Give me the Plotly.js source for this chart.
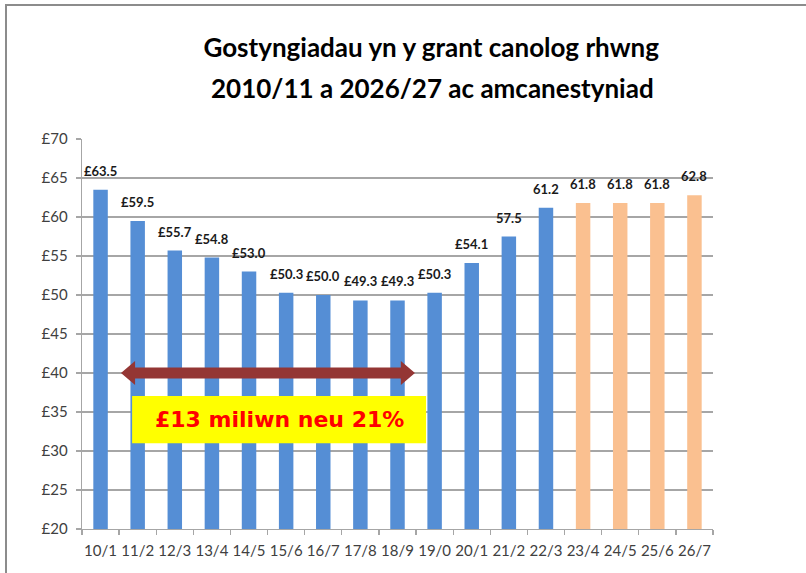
<!DOCTYPE html>
<html>
<head>
<meta charset="utf-8">
<script src="https://cdn.plot.ly/plotly-3.0.1.min.js"></script>
<style>
  html, body { margin: 0; padding: 0; background: #ffffff; }
  #wrap { position: relative; width: 806px; height: 573px; overflow: hidden; }
  #frame { position: absolute; left: 5px; top: 4px; width: 820px; height: 600px;
           border-top: 2px solid #8c8c8c; border-left: 2px solid #8c8c8c; pointer-events: none; }
  #chart { position: absolute; left: 0; top: 0; width: 806px; height: 573px; }
</style>
</head>
<body>
<div id="wrap">
  <div id="chart"></div>
  <div id="frame"></div>
</div>
<script>
// ---- data ----
const categories = ['10/1','11/2','12/3','13/4','14/5','15/6','16/7','17/8','18/9','19/0','20/1','21/2','22/3','23/4','24/5','25/6','26/7'];
const actualValues = [63.5, 59.5, 55.7, 54.8, 53.0, 50.3, 50.0, 49.3, 49.3, 50.3, 54.1, 57.5, 61.2];
const projectedValues = [61.8, 61.8, 61.8, 62.8];
const valueLabels = ['£63.5','£59.5','£55.7','£54.8','£53.0','£50.3','£50.0','£49.3','£49.3','£50.3','£54.1','57.5','61.2','61.8','61.8','61.8','62.8'];
const yTickValues = [20, 25, 30, 35, 40, 45, 50, 55, 60, 65, 70];
const yTickLabels = ['£20','£25','£30','£35','£40','£45','£50','£55','£60','£65','£70'];
const titleLines = ['Gostyngiadau yn y grant canolog rhwng', '2010/11 a 2026/27 ac amcanestyniad'];
const boxText = '£13 miliwn neu 21%';

// ---- build ----
const allValues = actualValues.concat(projectedValues);
const idx = categories.map((c, i) => i);
const actualX = idx.slice(0, actualValues.length);
const projX = idx.slice(actualValues.length);
const boundaries = categories.concat(['']).map((c, i) => i - 0.5);

const FONT = 'Lato, "Open Sans", sans-serif';
const GRID = '#a6a6a6';

const traces = [
  { type: 'bar', x: actualX, y: actualValues, width: 0.39,
    marker: { color: '#558ed5' }, hoverinfo: 'skip', showlegend: false },
  { type: 'bar', x: projX, y: projectedValues, width: 0.39,
    marker: { color: '#fac090' }, hoverinfo: 'skip', showlegend: false }
];

const labelAnns = idx.map(i => ({
  x: i, y: allValues[i], xref: 'x', yref: 'y', text: valueLabels[i],
  showarrow: false, yanchor: 'bottom', yshift: 9,
  font: { family: FONT, size: 13, color: '#1a1a1a', weight: 'bold' }
}));

// arrow geometry (data coordinates)
const aL = 0.55, aR = 8.47, head = 0.38, yc = 40, bh = 0.7, hh = 1.55;
const arrowPath = `M ${aL} ${yc} L ${aL+head} ${yc+hh} L ${aL+head} ${yc+bh} L ${aR-head} ${yc+bh} L ${aR-head} ${yc+hh} L ${aR} ${yc} L ${aR-head} ${yc-hh} L ${aR-head} ${yc-bh} L ${aL+head} ${yc-bh} L ${aL+head} ${yc-hh} Z`;

const layout = {
  width: 806, height: 573,
  margin: { l: 82, r: 93, t: 139, b: 44 },
  paper_bgcolor: 'rgba(0,0,0,0)', plot_bgcolor: '#ffffff',
  barmode: 'overlay',
  title: { text: titleLines[0], x: 0.535, xref: 'container', xanchor: 'center',
           y: 1 - 48/573, yref: 'container', yanchor: 'middle',
           font: { family: FONT, size: 26, color: '#000000', weight: 'bold' } },
  xaxis: {
    range: [-0.5, categories.length - 0.5], tickvals: idx, ticktext: categories,
    ticks: '', showgrid: false, zeroline: false, showline: true, linecolor: GRID, linewidth: 1.3,
    tickfont: { family: FONT, size: 15, color: '#404040' }, ticklabelstandoff: 8,
    minor: { tickvals: boundaries, ticks: 'outside', ticklen: 5, tickcolor: GRID, tickwidth: 1.3, showgrid: false },
    fixedrange: true
  },
  yaxis: {
    range: [20, 70], tickvals: yTickValues, ticktext: yTickLabels,
    ticks: 'outside', ticklen: 5, tickcolor: GRID, tickwidth: 1.3,
    showgrid: true, gridcolor: GRID, gridwidth: 1.3, zeroline: false,
    showline: true, linecolor: GRID, linewidth: 1.3,
    tickfont: { family: FONT, size: 15, color: '#404040' }, ticklabelstandoff: 5,
    fixedrange: true
  },
  shapes: [
    { type: 'path', xref: 'x', yref: 'y', path: arrowPath,
      fillcolor: '#943634', line: { width: 0 }, layer: 'above' },
    { type: 'rect', xref: 'x', yref: 'y', x0: 0.85, x1: 8.77, y0: 31.0, y1: 37.05,
      fillcolor: '#ffff00', line: { width: 0 }, layer: 'above' }
  ],
  annotations: labelAnns.concat([
    { text: titleLines[1], xref: 'paper', yref: 'paper',
      x: (432 - 82) / (806 - 82 - 93), y: 1 + (139 - 88) / (573 - 139 - 44),
      xanchor: 'center', yanchor: 'middle', showarrow: false,
      font: { family: FONT, size: 26, color: '#000000', weight: 'bold' } },
    { text: boxText, xref: 'x', yref: 'y', x: (0.85 + 8.77) / 2, y: 34.0,
      xanchor: 'center', yanchor: 'middle', showarrow: false,
      font: { family: '"DejaVu Sans", Verdana, sans-serif', size: 22, color: '#ff0000', weight: 'bold' } }
  ])
};

Plotly.newPlot('chart', traces, layout, { displayModeBar: false, staticPlot: true });
</script>
</body>
</html>
